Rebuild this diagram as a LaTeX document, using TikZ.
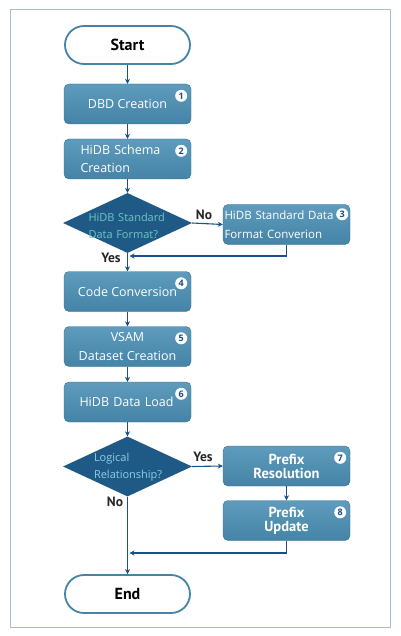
\documentclass[tikz,border=0pt]{standalone}
\usepackage{fontspec}
\setmainfont{Open Sans}
\newfontfamily\condfont{PT Sans}
\usetikzlibrary{shapes.geometric,arrows.meta}

\definecolor{BoxBlue}{HTML}{4584A7}
\definecolor{BoxTop}{HTML}{5E9BBC}
\definecolor{DiaBlue}{HTML}{1F5A87}
\definecolor{ArrowBlue}{HTML}{1B4F8A}
\definecolor{FrameGray}{HTML}{A9BDD5}
\definecolor{TealText}{HTML}{6EC7BE}
\definecolor{SkyText}{HTML}{8ACFE6}

\tikzset{
  box/.style={rectangle, rounded corners=5pt, top color=BoxTop, bottom color=BoxBlue, draw=BoxBlue!85!black, minimum width=127pt, minimum height=40pt, inner sep=0pt, text=white, font=\fontsize{12.5}{18.5}\selectfont, align=center},
  term/.style={rectangle, rounded corners=19pt, draw=BoxBlue, line width=1.8pt, fill=white, minimum width=125pt, minimum height=38pt, font=\condfont\bfseries\fontsize{16}{18}\selectfont},
  dia/.style={diamond, fill=DiaBlue, minimum width=129pt, minimum height=60pt, inner sep=0pt},
  diatext/.style={font=\fontsize{11}{17}\selectfont, align=left, inner sep=0pt},
  num/.style={circle, fill=white, inner sep=0pt, minimum size=12pt, text=ArrowBlue, font=\bfseries\fontsize{9}{9}\selectfont},
  flow/.style={-{Stealth[length=5pt,width=5pt]}, draw=ArrowBlue, line width=1.1pt},
  answer/.style={font=\condfont\bfseries\fontsize{13.5}{13.5}\selectfont, text=black!85},
  boldbox/.style={box, font=\condfont\bfseries\fontsize{14.5}{14}\selectfont}
}

\begin{document}
\begin{tikzpicture}[x=1pt, y=-1pt]

 \useasboundingbox (0,0) rectangle (400,636);
 % Frame
 \draw[FrameGray, line width=1pt] (10,10) rectangle (390,627);

 %%%%%%%%%% Main column %%%%%%%%%%
 \node[term] (start) at (127.5,45) {Start};
 \node[box] (dbd) at (127.5,104) {DBD Creation};
 \node[box, text width=94pt, align=left] (schema) at (127.5,159) {HiDB Schema\\Creation};
 \node[dia] (fmtq) at (127.5,223) {};
 \node[diatext, text width=78pt, text=TealText] (fmtqtext) at (127.5,226) {HiDB Standard\\Data Format?};
 \node[box] (codeconv) at (127.5,291.5) {Code Conversion};
 \node[box] (vsam) at (127.5,346.5) {VSAM\\Dataset Creation};
 \node[box, text width=96pt, align=left] (load) at (127.5,402) {HiDB Data Load};
 \node[dia] (logq) at (127.5,466.5) {};
 \node[diatext, text width=72pt, text=SkyText] (logqtext) at (130,467.5) {Logical\\Relationship?};
 \node[term] (stop) at (127.5,594) {End};

 %%%%%%%%%% Side column %%%%%%%%%%
 \node[box, text width=124pt, align=left, font=\fontsize{11.5}{18.5}\selectfont] (stdconv) at (286.5,224.5) {HiDB Standard Data\\Format Converion};
 \node[boldbox] (prefres) at (286.5,466) {Prefix\\Resolution};
 \node[boldbox] (prefupd) at (286.5,520.5) {Prefix\\Update};

 % Step numbers
 \node[num] (n1) at ([xshift=-10pt,yshift=-12pt]dbd.north east) {1};
 \node[num] (n2) at ([xshift=-10pt,yshift=-12pt]schema.north east) {2};
 \node[num] (n3) at ([xshift=-8pt,yshift=-10pt]stdconv.north east) {3};
 \node[num] (n4) at ([xshift=-10pt,yshift=-12pt]codeconv.north east) {4};
 \node[num] (n5) at ([xshift=-10pt,yshift=-12pt]vsam.north east) {5};
 \node[num] (n6) at ([xshift=-10pt,yshift=-12pt]load.north east) {6};
 \node[num] (n7) at ([xshift=-10pt,yshift=-12pt]prefres.north east) {7};
 \node[num] (n8) at ([xshift=-10pt,yshift=-12pt]prefupd.north east) {8};

 %%%%%%%%%% Connectors %%%%%%%%%%
 \coordinate (join1) at (129.5,256);
 \coordinate (join2) at (129.5,553);
 \draw[flow] (start) -- (dbd);
 \draw[flow] (dbd) -- (schema);
 \draw[flow] (schema) -- (fmtq);
 \draw[flow] (fmtq.south) -- (codeconv);
 \draw[flow] (fmtq.east) -- (stdconv.west);
 \draw[flow] (stdconv.south) |- (join1);
 \draw[flow] (codeconv) -- (vsam);
 \draw[flow] (vsam) -- (load);
 \draw[flow] (load) -- (logq);
 \draw[flow] (logq.east) -- (prefres.west);
 \draw[flow] (prefres) -- (prefupd);
 \draw[flow] (prefupd.south) |- (join2);
 \draw[flow] (logq.south) -- (stop);

 % Answers
 \node[answer] (no1) at (204,215) {No};
 \node[answer] (yes1) at (111,258) {Yes};
 \node[answer] (yes2) at (203,457) {Yes};
 \node[answer] (no2) at (115,502) {No};

\end{tikzpicture}
\end{document}
